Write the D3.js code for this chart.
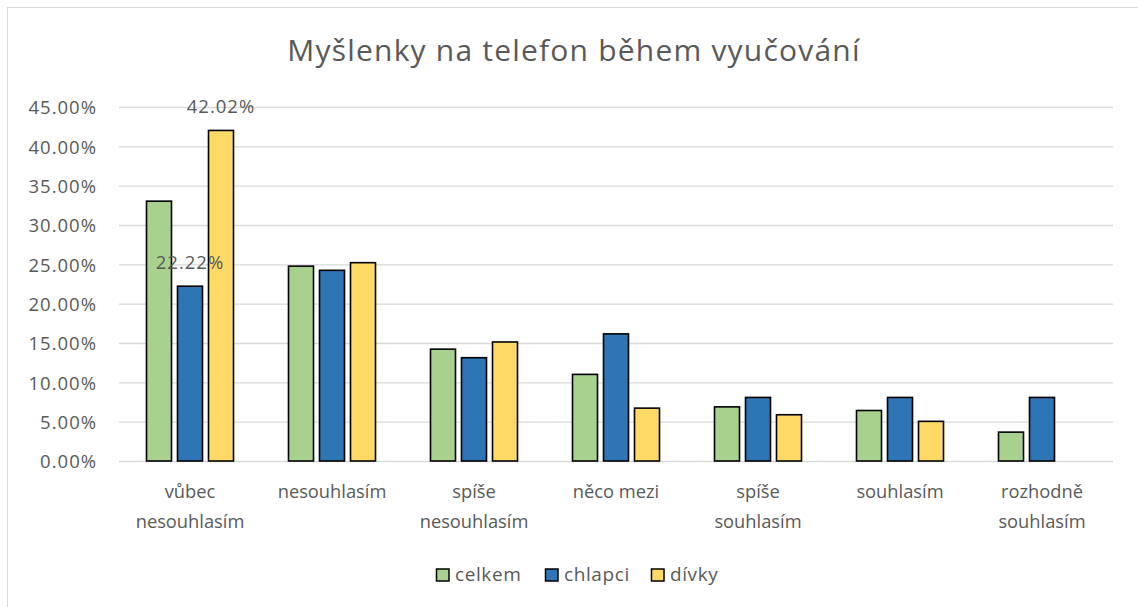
<!DOCTYPE html>
<html><head><meta charset="utf-8">
<script src="https://cdn.jsdelivr.net/npm/d3@7"></script>
<style>body{margin:0;background:#fff}svg{display:block}text{font-family:"Open Sans",sans-serif;fill:#595959}</style>
</head><body>
<svg id="c" width="1138" height="607"></svg>
<script>
const categories = [["vůbec","nesouhlasím"],["nesouhlasím"],["spíše","nesouhlasím"],["něco mezi"],["spíše","souhlasím"],["souhlasím"],["rozhodně","souhlasím"]];
const seriesNames = ["celkem","chlapci","dívky"];
const celkem  = [33.03, 24.77, 14.22, 11.01, 6.88, 6.42, 3.67];
const chlapci = [22.22, 24.24, 13.13, 16.16, 8.08, 8.08, 8.08];
const divky   = [42.02, 25.21, 15.13, 6.72, 5.88, 5.04, 0];
const seriesValues = [celkem, chlapci, divky];
const colors = ["#A9D18E","#2E75B6","#FFD966"];
const yTicks = [0,5,10,15,20,25,30,35,40,45];
const labelled = [{s:2,i:0},{s:1,i:0}];

const svg = d3.select("#c");
svg.append("rect").attr("x",7.5).attr("y",7.5).attr("width",1150).attr("height",620)
  .attr("fill","#fff").attr("stroke","#d9d9d9").attr("stroke-width",1);

const pL=119, pR=1113, pT=107, pB=461;
const keys = categories.map((c,i)=>i);
const x0 = d3.scaleBand().domain(keys).range([pL,pR]);
const x1 = d3.scaleBand().domain(d3.range(3)).range([0,x0.bandwidth()]).paddingInner(6/31).paddingOuter(0.887);
const y = d3.scaleLinear().domain([0,45]).range([pB,pT]);

const grid = svg.append("g");
grid.selectAll("line").data(yTicks).join("line")
  .attr("x1",pL).attr("x2",pR).attr("y1",d=>y(d)+0.5).attr("y2",d=>y(d)+0.5)
  .attr("stroke","#d9d9d9").attr("stroke-width",1.3);

const yAxis = d3.axisLeft(y).tickValues(yTicks).tickSize(0).tickPadding(0).tickFormat(d=>d.toFixed(2)+"%");
const ya = svg.append("g").attr("transform",`translate(97,0)`).call(yAxis);
ya.select(".domain").remove();
ya.selectAll("text").attr("font-size",18.5).attr("letter-spacing","1px").attr("dy","0.36em")
  .attr("fill","#595959").style("font-family","'Open Sans',sans-serif");

const g = svg.append("g");
seriesValues.forEach((vals,s)=>{
  g.selectAll(".b"+s).data(vals.map((v,i)=>({v,i}))).join("rect")
    .attr("x",d=>x0(d.i)+x1(s)).attr("width",x1.bandwidth())
    .attr("y",d=>y(d.v)).attr("height",d=>Math.max(0,y(0)-y(d.v)))
    .attr("fill",colors[s]).attr("stroke",d=>d.v>0?"#000":"none").attr("stroke-width",1.6);
});

labelled.forEach(l=>{
  const v = seriesValues[l.s][l.i];
  svg.append("text").attr("x",x0(l.i)+x1(l.s)+x1.bandwidth()/2).attr("y",y(v)-17.5)
    .attr("text-anchor","middle").attr("font-size",18.5).attr("letter-spacing","1px").text(v.toFixed(2)+"%");
});

const xl = svg.append("g");
categories.forEach((lines,i)=>{
  const t = xl.append("text").attr("x",x0(i)+x0.bandwidth()/2).attr("text-anchor","middle").attr("font-size",18.3);
  lines.forEach((ln,k)=>t.append("tspan").attr("x",x0(i)+x0.bandwidth()/2).attr("y",498+k*29.5).text(ln));
});

svg.append("text").attr("x",574).attr("y",61).attr("text-anchor","middle").attr("font-size",30)
  .attr("letter-spacing","1.2px").text("Myšlenky na telefon během vyučování");

const legX = [436,545,651];
const leg = svg.append("g");
seriesNames.forEach((n,s)=>{
  leg.append("rect").attr("x",legX[s]+0.5).attr("y",569).attr("width",12.5).attr("height",12)
    .attr("fill",colors[s]).attr("stroke","#000").attr("stroke-width",1.5);
  leg.append("text").attr("x",legX[s]+19).attr("y",581).attr("font-size",19).attr("letter-spacing","0.6px").text(n);
});
</script>
</body></html>
